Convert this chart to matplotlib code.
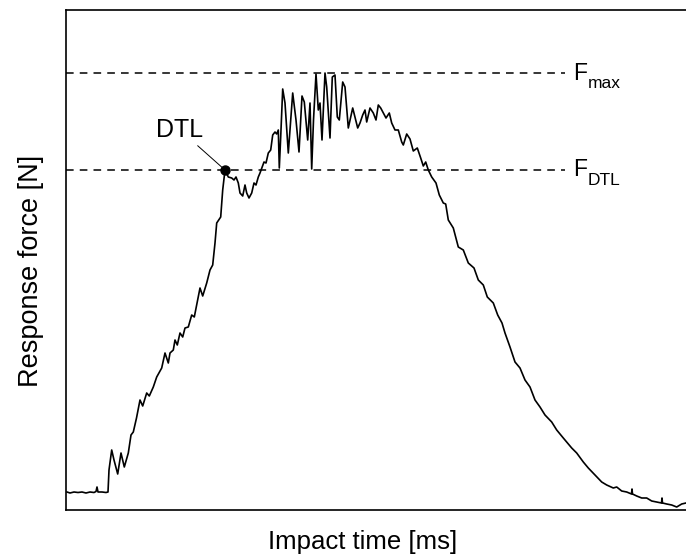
import matplotlib
matplotlib.use("Agg")
import matplotlib.pyplot as plt

plt.rcParams['font.family'] = ['Liberation Sans', 'DejaVu Sans']

# impact time [ms] and response force [N]
time_ms = [0.10, 0.40, 0.80, 1.20, 1.60, 2.00, 2.40, 2.80, 3.00, 3.10, 3.20, 3.60, 4.00, 4.20,
           4.30, 4.57, 4.80, 5.17, 5.50, 5.83, 6.23, 6.50, 6.73, 7.05, 7.40, 7.67, 8.07, 8.33,
           8.73, 9.07, 9.57, 9.90, 10.23, 10.40, 10.73, 10.90, 11.13, 11.40, 11.67, 11.90,
           12.23, 12.57, 12.83, 13.07, 13.40, 13.67, 14.07, 14.40, 14.67, 14.90, 15.07, 15.47,
           15.67, 15.90, 16.23, 16.57, 16.80, 17.00, 17.23, 17.40, 17.67, 17.90, 18.07, 18.30,
           18.57, 18.80, 19.00, 19.23, 19.40, 19.80, 20.00, 20.23, 20.47, 20.67, 20.90, 21.07,
           21.23, 21.33, 21.47, 21.67, 21.90, 22.23, 22.67, 23.00, 23.30, 23.60, 23.83, 24.17,
           24.40, 24.57, 24.75, 25.00, 25.23, 25.40, 25.60, 25.90, 26.07, 26.40, 26.63, 26.90,
           27.13, 27.33, 27.67, 27.90, 28.23, 28.47, 28.67, 28.90, 29.17, 29.40, 29.67, 29.90,
           30.07, 30.40, 30.73, 31.00, 31.23, 31.47, 31.73, 32.00, 32.33, 32.57, 32.90, 33.23,
           33.57, 33.73, 34.07, 34.40, 34.73, 35.13, 35.47, 35.73, 35.97, 36.23, 36.57, 37.00,
           37.33, 37.73, 37.97, 38.23, 38.73, 39.23, 39.73, 40.23, 40.80, 41.23, 41.73, 42.13,
           42.73, 43.17, 43.60, 43.90, 44.40, 44.90, 45.40, 45.90, 46.40, 46.90, 47.40, 47.90,
           48.57, 49.07, 49.73, 50.57, 51.07, 51.73, 52.23, 52.90, 53.57, 54.07, 54.73, 55.07,
           55.57, 56.07, 56.55, 56.60, 56.65, 57.07, 57.57, 58.07, 58.57, 59.07, 59.55, 59.60,
           59.65, 60.07, 60.57, 61.07, 61.57, 62.00]
force_n = [36, 34, 36, 35, 36, 34, 36, 35, 37, 46, 36, 36, 35, 36,
           80, 120, 100, 72, 114, 86, 114, 150, 156, 184, 220, 208, 234, 228,
           246, 266, 284, 314, 294, 314, 320, 340, 330, 354, 346, 364,
           366, 390, 386, 410, 444, 428, 454, 480, 490, 534, 574, 586,
           640, 680, 666, 664, 660, 666, 654, 634, 628, 650, 634, 624,
           634, 654, 650, 666, 674, 696, 694, 714, 720, 750, 756, 752,
           760, 684, 746, 842, 814, 714, 834, 780, 716, 828, 816, 740,
           814, 682, 780, 872, 800, 814, 740, 874, 846, 744, 866, 870,
           786, 780, 856, 846, 764, 786, 804, 786, 764, 774, 790, 800,
           776, 804, 794, 780, 810, 804, 794, 784, 794, 774, 760, 760,
           736, 730, 752, 742, 718, 724, 704, 688, 696, 680, 666, 654,
           630, 614, 612, 580, 564, 526, 520, 494, 484, 460, 450, 426,
           414, 390, 374, 354, 326, 296, 284, 260, 246, 220, 206, 190,
           176, 160, 144, 124, 114, 96, 84, 70, 56, 50, 44, 46,
           38, 36, 32, 42, 32, 28, 24, 24, 18, 16, 14, 24,
           14, 12, 10, 6, 12, 14]

f_max = 874
f_dtl = 680
t_dtl = 15.90
line_end = 49.9
label_t = 50.7
level_names = ['max', 'DTL']

fig = plt.figure(figsize=(6.86, 5.6), dpi=100)
ax = fig.add_axes([66 / 686, 50 / 560, 620 / 686, 500 / 560])

ax.plot(time_ms, force_n, color='black', lw=1.2)
ax.plot(t_dtl, f_dtl, 'o', color='black', ms=6.5)

# dashed reference levels with F_max / F_DTL labels
for level, name in zip([f_max, f_dtl], level_names):
    ax.plot([0, line_end], [level, level], color='black', lw=1.1, ls=(0, (5, 4)))
    f_txt = ax.text(label_t, level, 'F', fontsize=16.5, va='center', ha='left')
    ax.annotate(name, xy=(1, 0), xycoords=f_txt, xytext=(0.5, -5),
                textcoords='offset points', fontsize=12.5, ha='left', va='bottom')

ax.annotate('DTL', xy=(t_dtl, f_dtl), xytext=(11.4, 760), fontsize=18,
            ha='center', va='center',
            arrowprops=dict(arrowstyle='-', lw=0.7, color='black', shrinkA=1, shrinkB=3))

ax.set_xlim(0, 62.0)
ax.set_ylim(0, 1000)
ax.set_xticks([])
ax.set_yticks([])
ax.spines['right'].set_visible(False)
for s in ['left', 'top', 'bottom']:
    ax.spines[s].set_linewidth(1.2)

ax.set_xlabel('Impact time [ms]', fontsize=18.5)
ax.xaxis.set_label_coords(0.479, -0.04)
ax.set_ylabel('Response force [N]', fontsize=19.5)
ax.yaxis.set_label_coords(-0.036, 0.478)

fig.savefig('out.png', dpi=100)
